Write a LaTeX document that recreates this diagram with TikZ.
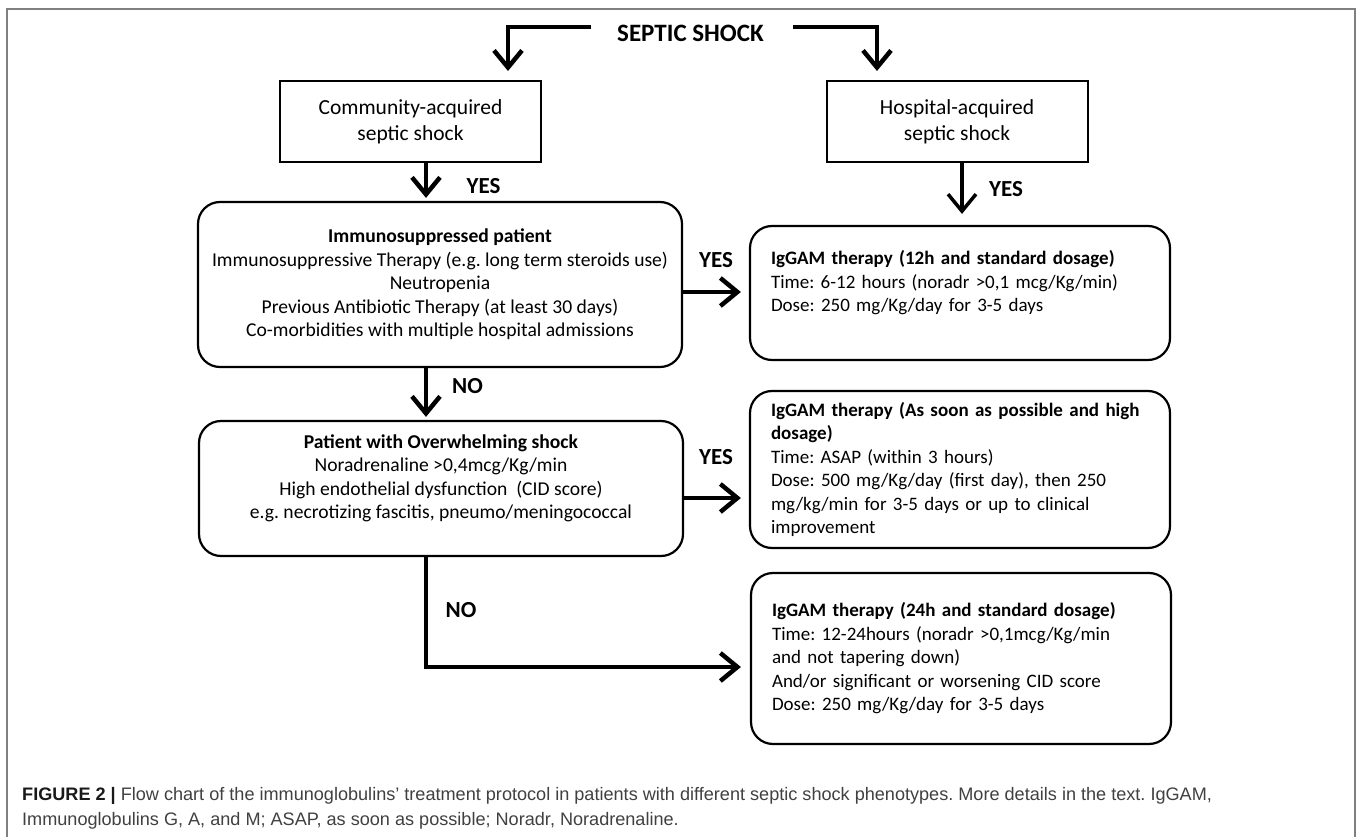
\documentclass[tikz,border=0pt]{standalone}
\usepackage{fontspec}
\setmainfont{Carlito}
\newfontfamily\capfont{Liberation Sans}
\usetikzlibrary{arrows.meta}
\frenchspacing

\tikzset{
	sqbox/.style={draw,line width=2pt,minimum width=261pt,minimum height=81pt,align=center,font=\fontsize{21.5}{26}\selectfont},
	roundbox/.style={draw,line width=2.2pt,rounded corners=22pt,font=\fontsize{19}{23.5}\selectfont},
	leftbox/.style={roundbox,minimum width=484pt,align=center,font=\fontsize{19.6}{23.5}\selectfont},
	rightbox/.style={roundbox,minimum width=420pt,text width=378pt,inner xsep=21pt,align=left},
	flow/.style={line width=4.5pt,-{Straight Barb[length=17pt,width=28pt]}},
	answer/.style={font=\bfseries\fontsize{23}{26}\selectfont},
	caption/.style={anchor=base west,inner sep=0pt,text=black!75,font=\capfont\fontsize{18.1}{22}\selectfont}
}

\begin{document}
\begin{tikzpicture}[x=1pt,y=-1pt]
	\useasboundingbox (0,0) rectangle (1358,837);
	\draw[gray,line width=1.3pt] (7,837) -- (7,9) -- (1355,9) -- (1355,837);

	\node[inner sep=0pt,font=\bfseries\fontsize{25}{28}\selectfont] (title) at (690.5,33) {SEPTIC SHOCK};
	\node[sqbox] (comm) at (410.5,121.5) {Community-acquired\\septic shock};
	\node[sqbox] (hosp) at (957,121.5) {Hospital-acquired\\septic shock};

	\node[leftbox,minimum height=165pt] (immuno) at (440,284.5) {\textbf{Immunosuppressed patient}\\
		Immunosuppressive Therapy (e.g. long term steroids use)\\
		Neutropenia\\
		Previous Antibiotic Therapy (at least 30 days)\\
		Co-morbidities with multiple hospital admissions};
	\node[leftbox,minimum height=135pt] (overw) at (441,488.5) {\textbf{Patient with Overwhelming shock}\\
		Noradrenaline >0,4mcg/Kg/min\\
		High endothelial dysfunction~ (CID score)\\
		e.g. necrotizing fascitis, pneumo/meningococcal\\[0pt]\mbox{}};

	\node[rightbox,minimum height=134pt] (igg1) at (960,293) {\textbf{IgGAM therapy (12h and standard dosage)}\\
		Time: 6-12 hours (noradr >0,1 mcg/Kg/min)\\
		Dose: 250 mg/Kg/day for 3-5 days\\[0pt]\mbox{}};
	\node[rightbox,minimum height=157pt] (igg2) at (960,469.5) {\textbf{IgGAM therapy (As soon as possible and high}\\
		\textbf{dosage)}\\
		Time: ASAP (within 3 hours)\\
		Dose: 500 mg/Kg/day (first day), then 250\\
		mg/kg/min for 3-5 days or up to clinical\\
		improvement};
	\node[rightbox,minimum height=171pt] (igg3) at (961,658.5) {\textbf{IgGAM therapy (24h and standard dosage)}\\
		Time: 12-24hours (noradr >0,1mcg/Kg/min\\
		and not tapering down)\\
		And/or significant or worsening CID score\\
		Dose: 250 mg/Kg/day for 3-5 days};

	\draw[flow,shorten >=9pt] ([xshift=-26pt,yshift=6pt]title.west) -| ([xshift=97.5pt]comm.north);
	\draw[flow,shorten >=9pt] ([xshift=29pt,yshift=6pt]title.east) -| ([xshift=-80pt]hosp.north);
	\draw[flow,shorten >=3pt] ([xshift=15.5pt]comm.south) -- ([xshift=15.5pt]comm.south |- immuno.north);
	\draw[flow,line width=3.5pt,shorten >=11pt] ([xshift=5pt]hosp.south) -- ([xshift=5pt]hosp.south |- igg1.north);
	\draw[flow,shorten >=8pt] ([yshift=-7.5pt]immuno.east) -- ([yshift=-7.5pt]immuno.east -| igg1.west);
	\draw[flow,shorten >=3pt] ([xshift=-14pt]immuno.south) -- ([xshift=-14pt]immuno.south |- overw.north);
	\draw[flow,shorten >=8pt] ([yshift=-9.5pt]overw.east) -- ([yshift=-9.5pt]overw.east -| igg2.west);
	\draw[flow,shorten >=9pt] ([xshift=-15pt]overw.south) |- ([yshift=-8.5pt]igg3.west);

	\node[answer] (yes1) at (483.5,186) {YES};
	\node[answer] (yes2) at (1006,189) {YES};
	\node[answer] (yes3) at (716,260) {YES};
	\node[answer] (no1) at (467.5,386) {NO};
	\node[answer] (yes4) at (716,457) {YES};
	\node[answer] (no2) at (461,610) {NO};

	\node[caption] (cap1) at (22,800) {\textbf{\textcolor{black!90}{FIGURE 2 |}} Flow chart of the immunoglobulins’ treatment protocol in patients with different septic shock phenotypes. More details in the text. IgGAM,};
	\node[caption] (cap2) at (22,825) {Immunoglobulins G, A, and M; ASAP, as soon as possible; Noradr, Noradrenaline.};
\end{tikzpicture}
\end{document}
